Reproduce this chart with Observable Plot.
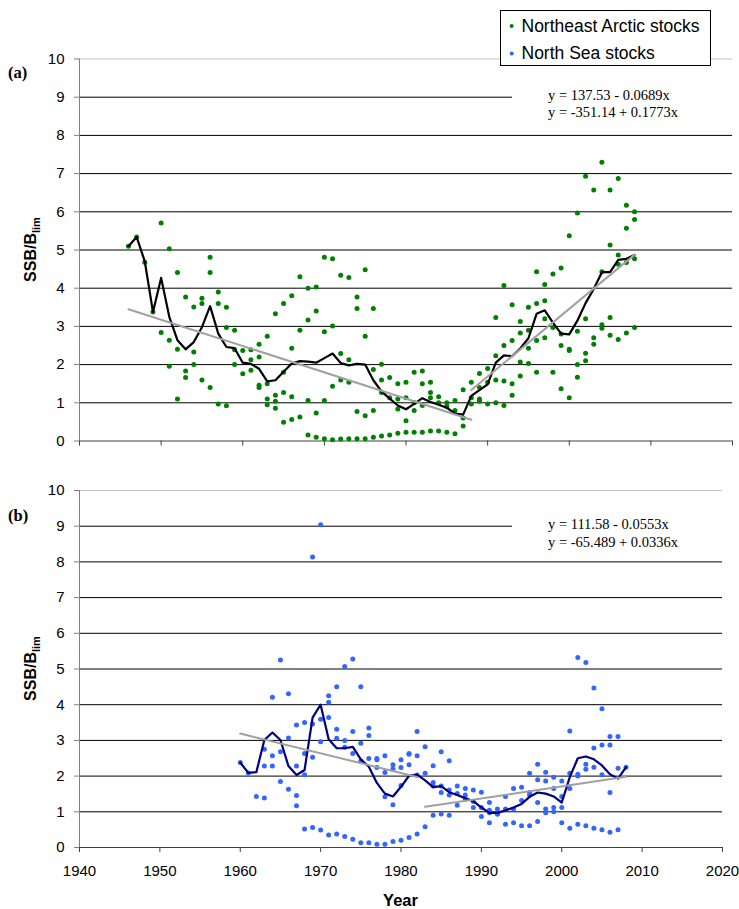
<!DOCTYPE html>
<html><head><meta charset="utf-8">
<script src="https://cdn.jsdelivr.net/npm/d3@7"></script>
<script src="https://cdn.jsdelivr.net/npm/@observablehq/plot@0.6"></script>
<style>
body{margin:0;background:#fff;}
#wrap{position:relative;width:739px;height:909px;overflow:hidden;background:#fff;}
#wrap svg{position:absolute;left:0;overflow:visible;}
</style></head><body><div id="wrap"></div>
<script>
// ---------- Data ----------
const xTicks = [1940,1950,1960,1970,1980,1990,2000,2010,2020];
const yTicks = [0,1,2,3,4,5,6,7,8,9,10];

// (a) Northeast Arctic stocks: per-year stock values
const neaYears = [1946,1947,1948,1949,1950,1951,1952,1953,1954,1955,1956,1957,1958,1959,1960,1961,1962,1963,1964,1965,1966,1967,1968,1969,1970,1971,1972,1973,1974,1975,1976,1977,1978,1979,1980,1981,1982,1983,1984,1985,1986,1987,1988,1989,1990,1991,1992,1993,1994,1995,1996,1997,1998,1999,2000,2001,2002,2003,2004,2005,2006,2007,2008];
const neaValues = [
 [5.10],[5.34],[4.68],[3.38],[5.71,2.84],[5.03,2.64,1.96],[4.41,2.40,1.10],[3.77,1.83,1.66],
 [3.51,2.33,2.00],[3.74,3.60,1.60],[4.81,4.41,1.40],[3.90,3.60,0.97],[3.50,2.97,0.92],[2.90,2.39,2.00],
 [2.37,1.76],[2.39,2.13,1.85],[2.53,2.20,1.46,1.40],[2.74,1.50,1.10,0.95],[3.33,1.20,1.04,0.86],
 [3.60,1.80,1.27,0.49],[3.80,2.43,1.16,0.56],[4.30,2.90,0.63],[4.00,3.17,1.06,0.16],[4.03,3.40,0.73,0.10],
 [4.81,2.86,1.06,0.06],[4.77,3.01,1.43,0.03],[4.34,2.29,1.60,0.05],[4.28,2.13,1.54,0.06],[3.77,3.47,0.77,0.06],
 [4.48,2.74,0.66,0.06],[3.47,1.87,0.80,0.10],[2.01,1.60,1.27,0.13],[1.66,1.13,0.16],[1.50,1.10,0.84,0.20],
 [1.54,1.13,0.53,0.23],[1.80,1.00,0.80,0.23],[1.83,1.50,0.93,0.23],[1.54,1.27,1.13,0.26],[1.16,1.00,0.26],
 [1.00,0.90,0.23],[1.06,0.80,0.19],[1.34,0.60,0.39],[1.54,1.13,0.97],[1.77,1.40,1.10,1.04],[1.90,1.54,0.97],
 [3.23,2.23,1.60,1.00],[4.07,2.50,1.57,0.93],[3.57,2.63,1.50,1.20],[3.13,2.83,2.07,1.70],[3.50,2.90,2.43,2.03],
 [4.43,3.60,2.63,1.80],[4.10,3.67,3.20,2.70],[4.37,2.97,1.80],[4.53,2.80,2.50,1.37],[5.37,2.40,2.37,1.13],
 [5.97,2.87,2.00,1.67],[6.93,3.20,2.30,2.10],[6.57,2.70,2.53],[7.30,4.43,3.04,2.95],[6.57,5.13,3.23,2.77],
 [6.87,4.87,4.63,2.66],[6.17,5.57,4.67,2.83],[6.00,5.80,4.77,2.97]
];
// (a) mean line
const neaMean = [5.10,5.34,4.70,3.38,4.27,3.25,2.64,2.40,2.59,2.98,3.53,2.81,2.46,2.43,2.05,2.02,1.89,1.56,1.59,1.81,2.03,2.09,2.08,2.05,2.17,2.29,2.04,1.98,2.02,2.00,1.59,1.30,1.11,0.93,0.83,0.97,1.12,1.02,0.95,0.87,0.72,0.69,1.18,1.33,1.48,2.05,2.24,2.22,2.42,2.69,3.33,3.42,3.10,2.81,2.79,3.15,3.61,3.98,4.42,4.42,4.74,4.77,4.87];
// (a) trend lines: y = a + b*x
const neaTrends = [{a:137.53, b:-0.0689, from:1946, to:1988}, {a:-351.14, b:0.1773, from:1988, to:2008}];
const neaEquations = ["y = 137.53 - 0.0689x", "y = -351.14 + 0.1773x"];

// (b) North Sea stocks
const nsYears = [1960,1961,1962,1963,1964,1965,1966,1967,1968,1969,1970,1971,1972,1973,1974,1975,1976,1977,1978,1979,1980,1981,1982,1983,1984,1985,1986,1987,1988,1989,1990,1991,1992,1993,1994,1995,1996,1997,1998,1999,2000,2001,2002,2003,2004,2005,2006,2007,2008];
const nsValues = [
 [2.38],[2.09],[1.43],[2.75,2.28,1.39],[4.21,2.57,2.28],[5.25,2.68,1.85],[4.31,3.07,1.63],[3.43,2.28,1.46,1.17],
 [3.50,2.63,2.04,0.52],[8.14,3.46,2.53,0.56],[9.04,3.59,2.96,0.49],[4.25,4.07,3.64,0.35],[4.50,3.31,3.06,0.38],
 [5.07,3.00,2.81,0.31],[5.28,3.25,2.63,0.23],[4.50,2.92,2.42,0.13],[3.35,3.14,2.49,0.13],[2.49,2.46,2.24,0.09],
 [2.57,2.10,1.42,0.09],[2.32,2.20,1.20,0.17],[2.46,2.24,1.74,0.20],[2.63,2.61,2.32,0.28],[3.25,2.57,2.03,0.38],
 [2.82,2.08,0.58],[2.29,1.82,1.72,0.90],[2.68,1.72,1.54,0.94],[2.43,1.61,1.47,0.90],[1.72,1.51,1.18],
 [1.65,1.47,1.36],[1.61,1.29,1.12],[1.55,1.12,0.87],[1.26,1.04,0.97,0.69],[1.08,0.97,0.93],[1.43,1.08,0.65],
 [1.65,1.08,0.69],[1.69,1.32,0.61],[2.08,1.54,1.47,0.61],[2.33,1.90,1.26,0.73],[2.11,1.86,1.08,0.97],
 [1.97,1.65,1.12,1.00],[1.86,1.43,1.12,0.69],[3.26,2.08,1.65,0.54],[5.32,2.05,2.00,0.65],[5.18,2.33,2.19,0.61],
 [4.47,2.79,2.25,0.54],[3.89,2.87,2.04,0.50],[3.11,2.87,1.54,0.43],[3.11,2.22,0.50],[2.25]
];
const nsMean = [2.38,2.09,2.11,3.01,3.22,3.01,2.28,2.03,2.17,3.64,4.00,3.03,2.78,2.78,2.82,2.47,2.26,1.81,1.51,1.43,1.70,2.01,2.04,1.88,1.69,1.72,1.55,1.47,1.38,1.30,1.12,0.97,0.97,1.04,1.12,1.22,1.42,1.54,1.51,1.43,1.26,1.97,2.50,2.55,2.47,2.30,2.05,1.93,2.25];
const nsTrends = [{a:111.58, b:-0.0553, from:1960, to:1982}, {a:-65.489, b:0.0336, from:1983, to:2008}];
const nsEquations = ["y = 111.58 - 0.0553x", "y = -65.489 + 0.0336x"];

const legendLabels = ["Northeast Arctic stocks", "North Sea stocks"];
const colors = {nea: "#008000", ns: "#3366ff", neaLine: "#000000", nsLine: "#000080", trend: "#a0a0a0"};

// ---------- Build ----------
const SANS = "'Liberation Sans', Arial, sans-serif";
const SERIF = "'Liberation Serif', 'Times New Roman', serif";
const pointsOf = (yrs, vals) => yrs.flatMap((y, i) => vals[i].map(v => ({year: y, v})));
const meanOf = (yrs, m) => yrs.map((y, i) => ({year: y, v: m[i]}));
const trendOf = (tr) => tr.flatMap((t, i) => [t.from, t.to].map(x => ({seg: i, year: x, v: t.a + t.b * x})));

function panel({height, mt, mb, mr, pts, mean, trends, dot, line, labels}) {
  return Plot.plot({
    width: 739, height, marginTop: mt, marginBottom: mb, marginLeft: 79, marginRight: mr,
    x: {domain: [1940, 2020]},
    y: {domain: [0, 10]},
    style: {fontFamily: SANS, fontSize: "15px", color: "black", background: "transparent", overflow: "visible"},
    marks: [
      Plot.ruleY(yTicks.filter(d => d > 0 && d < 10), {stroke: "#000", strokeWidth: 1}),
      Plot.ruleY([10], {stroke: "#c0c0c0", strokeWidth: 1}),
      Plot.ruleY([0], {stroke: "#404040", strokeWidth: 1}),
      Plot.ruleX([1940], {stroke: "#808080", strokeWidth: 1}),
      Plot.axisY({ticks: yTicks, tickSize: 5, tickPadding: 10, stroke: "#808080", fill: "black", label: null, tickFormat: d => String(d)}),
      Plot.axisX({ticks: xTicks, tickSize: 5, tickPadding: 13, stroke: "#404040", fill: "black", label: null,
                  tickFormat: labels ? (d => String(d)) : (() => "")}),
      Plot.dot(pts, {x: "year", y: "v", r: 2.5, fill: dot, stroke: "none"}),
      Plot.line(mean, {x: "year", y: "v", stroke: line, strokeWidth: 2.2}),
      Plot.line(trends, {x: "year", y: "v", z: "seg", stroke: colors.trend, strokeWidth: 2})
    ]
  });
}

const wrap = document.getElementById("wrap");

const pa = panel({height: 460, mt: 58.5, mb: 19.5, mr: 7,
  pts: pointsOf(neaYears, neaValues), mean: meanOf(neaYears, neaMean), trends: trendOf(neaTrends),
  dot: colors.nea, line: colors.neaLine, labels: false});
pa.style.top = "0px";
wrap.appendChild(pa);

const pb = panel({height: 449, mt: 30, mb: 62, mr: 17,
  pts: pointsOf(nsYears, nsValues), mean: meanOf(nsYears, nsMean), trends: trendOf(nsTrends),
  dot: colors.ns, line: colors.nsLine, labels: true});
pb.style.top = "460px";
wrap.appendChild(pb);

function annotate(svgEl, o) {
  const svg = d3.select(svgEl);
  // equation box
  svg.append("rect").attr("x", 512).attr("y", o.eqTop).attr("width", o.eqRight - 512).attr("height", o.eqH).attr("fill", "#fff");
  o.eq.forEach((s, i) => svg.append("text").attr("x", 548).attr("y", o.eqBase[i]).attr("text-anchor", "start")
     .attr("font-family", SERIF).attr("font-size", 14.5).attr("fill", "#000").text(s));
  // panel tag
  svg.append("text").attr("x", 8).attr("y", o.tagY).attr("text-anchor", "start").attr("font-family", SERIF).attr("font-weight", "bold")
     .attr("font-size", 16.5).attr("fill", "#000").text(o.tag);
  // y title
  const t = svg.append("text").attr("transform", `translate(36,${o.titleY}) rotate(-90)`)
     .attr("text-anchor", "middle").attr("font-family", SANS).attr("font-weight", "bold").attr("font-size", 16).attr("fill", "#000");
  t.append("tspan").text("SSB/B");
  t.append("tspan").attr("font-size", 11).attr("dy", 4).text("lim");
}

annotate(pa, {eqTop: 84, eqH: 38, eqRight: 732, eq: neaEquations, eqBase: [100, 116.5], tag: "(a)", tagY: 78, titleY: 249.5});
annotate(pb, {eqTop: 54, eqH: 38, eqRight: 722, eq: nsEquations, eqBase: [68.5, 86.5], tag: "(b)", tagY: 61, titleY: 208.5});

// legend (panel a svg)
{
  const svg = d3.select(pa);
  svg.append("rect").attr("x", 500.5).attr("y", 10.5).attr("width", 210).attr("height", 55)
     .attr("fill", "#fff").attr("stroke", "#000").attr("stroke-width", 1);
  const items = [{c: colors.nea, y: 26}, {c: colors.ns, y: 53.5}];
  items.forEach((it, i) => {
    svg.append("circle").attr("cx", 511.7).attr("cy", it.y).attr("r", 2).attr("fill", it.c);
    svg.append("text").attr("x", 521.5).attr("y", it.y + 5.8).attr("text-anchor", "start").attr("font-family", SANS).attr("font-size", 17.5)
       .attr("fill", "#000").text(legendLabels[i]);
  });
}

// x title
d3.select(pb).append("text").attr("x", 400.5).attr("y", 446).attr("text-anchor", "middle")
  .attr("font-family", SANS).attr("font-weight", "bold").attr("font-size", 16.5).attr("fill", "#000").text("Year");
</script>
</body></html>
